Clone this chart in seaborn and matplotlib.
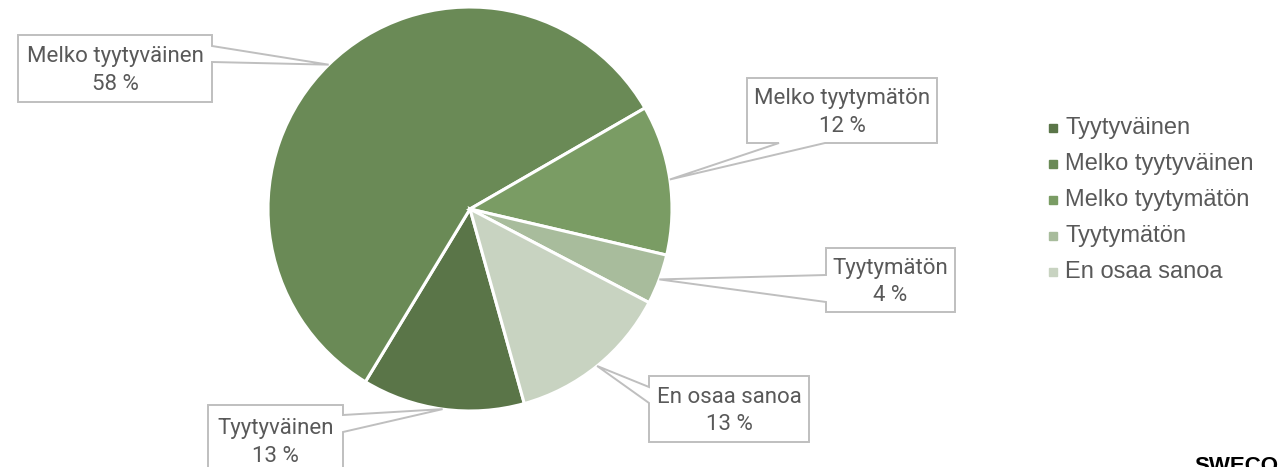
import matplotlib
matplotlib.use("Agg")
import matplotlib.pyplot as plt
import numpy as np
import seaborn as sns
from matplotlib.patches import Polygon

# data
categories = ["Tyytyväinen", "Melko tyytyväinen", "Melko tyytymätön", "Tyytymätön", "En osaa sanoa"]
shares = [13, 58, 12, 4, 13]
colors = ["#5a7548", "#6a8a56", "#7a9c64", "#a8bc9c", "#c8d3c1"]

W, H = 1281, 467
cx, cy, R = 470, 209, 202
first_angle = 164.4  # degrees clockwise from 12 o'clock

# label boxes (pixel coords, y down): x0, y0, x1, y1, side of tail, tail base a, b
boxes = {
    "Melko tyytyväinen": (18, 35, 212, 102, "right", 46, 62),
    "Melko tyytymätön": (747, 78, 937, 143, "bottom", 779, 825),
    "Tyytymätön": (826, 248, 955, 312, "left", 275, 302),
    "En osaa sanoa": (649, 376, 809, 442, "left", 387, 403),
    "Tyytyväinen": (208, 405, 343, 476, "right", 415, 432),
}

sns.set_theme(style="white")
plt.rcParams["font.family"] = ["Roboto", "DejaVu Sans"]

fig = plt.figure(figsize=(W / 100, H / 100), dpi=100)
ax = fig.add_axes([(cx - R) / W, (H - cy - R) / H, 2 * R / W, 2 * R / H])
ax.pie(
    shares,
    colors=colors,
    startangle=90 - first_angle,
    counterclock=False,
    wedgeprops=dict(edgecolor="white", linewidth=2.2),
)
ax.set_xlim(-1, 1)
ax.set_ylim(-1, 1)
ax.axis("off")

# overlay in pixel coordinates for callouts and legend
ov = fig.add_axes([0, 0, 1, 1])
ov.set_xlim(0, W)
ov.set_ylim(H, 0)
ov.axis("off")

total = float(sum(shares))
starts = np.cumsum([0] + shares[:-1])
for cat, s, st in zip(categories, shares, starts):
    mid = np.deg2rad(first_angle + (st + s / 2) / total * 360)
    tip = (cx + R * np.sin(mid), cy - R * np.cos(mid))
    x0, y0, x1, y1, side, a, b = boxes[cat]
    pts = [(x0, y0)]
    if side == "top":
        pts += [(a, y0), tip, (b, y0)]
    pts += [(x1, y0)]
    if side == "right":
        pts += [(x1, a), tip, (x1, b)]
    pts += [(x1, y1)]
    if side == "bottom":
        pts += [(b, y1), tip, (a, y1)]
    pts += [(x0, y1)]
    if side == "left":
        pts += [(x0, b), tip, (x0, a)]
    ov.add_patch(Polygon(pts, closed=True, facecolor="white", edgecolor="#bfbfbf", linewidth=1.4, zorder=3))
    ov.text((x0 + x1) / 2, (y0 + y1) / 2 + 2, f"{cat}\n{s} %", ha="center", va="center",
            multialignment="center", fontsize=16, fontweight="normal", color="#595959",
            linespacing=1.4, zorder=4)

# legend
for i, (cat, c) in enumerate(zip(categories, colors)):
    y = 128 + 36 * i
    ov.plot([1053], [y], marker="s", markersize=5.5, color=c, linestyle="none")
    ov.text(1065, y, cat, ha="left", va="center", fontsize=17, color="#595959",
            family=["Liberation Sans", "DejaVu Sans"])

ov.text(1194, 456, "SWECO", ha="left", va="top", fontsize=16, fontweight="bold",
        color="black", family=["Liberation Sans", "DejaVu Sans"])

fig.savefig("out.png", dpi=100)
